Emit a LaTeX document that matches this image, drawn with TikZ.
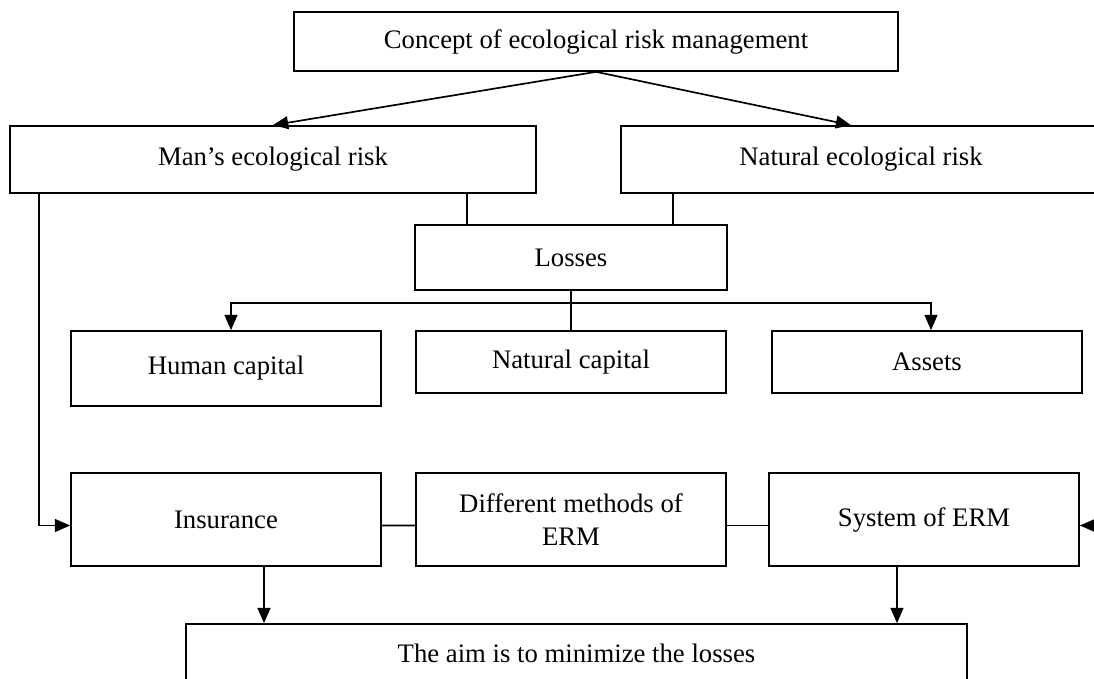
\documentclass[tikz,border=0pt]{standalone}
\usepackage{fontspec}
\setmainfont{Liberation Serif}
\usepackage{tikz}
\usetikzlibrary{positioning, arrows.meta, shapes}
\tikzstyle{arrow} = [line width=1.2pt,-{Triangle[length=0.38cm,width=0.32cm]}]
\tikzstyle{connect} = [line width=1.2pt,-]
\tikzstyle{box} = [rectangle, inner sep=0pt, text centered, draw=black, line width=1.2pt, font=\fontsize{19}{23.5}\selectfont]
\tikzstyle{risk} = [box, minimum width=13.15cm, minimum height=1.675cm]
\tikzstyle{capital} = [box, minimum width=7.75cm, minimum height=1.55cm]
\tikzstyle{method} = [box, minimum width=7.75cm, minimum height=2.325cm, align=center]

\begin{document}
\begin{tikzpicture}[node distance=1cm]
            \useasboundingbox (0,0) rectangle (27.35,-16.975);
            \node (concept) [box, minimum width=15.1cm, minimum height=1.475cm] at (14.9,-1.0375) {Concept of ecological risk management};
            \node (mans) [risk, node distance=2.95cm, below of=concept, xshift=-8.075cm] {Man’s ecological risk};
            \node (natural) [risk, minimum width=12cm, node distance=2.95cm, below of=concept, xshift=6.625cm] {Natural ecological risk};
            \node (losses) [box, minimum width=7.8cm, minimum height=1.625cm, node distance=5.4cm, below of=concept, xshift=-0.625cm] {Losses};
            \node (natcap) [capital, node distance=2.6125cm, below of=losses] {Natural capital};
            \node (human) [capital, minimum height=1.875cm, node distance=2.775cm, below of=losses, xshift=-8.625cm] {Human capital};
            \node (assets) [capital, node distance=2.6125cm, below of=losses, xshift=8.9cm] {Assets};
            \node (insurance) [method, node distance=3.775cm, below of=human] {Insurance};
            \node (methods) [method, node distance=3.9375cm, below of=natcap] {Different methods of\\ERM};
            \node (system) [method, node distance=3.9375cm, below of=assets, xshift=-0.075cm] {System of ERM};
            \node (aim) [box, minimum width=19.525cm, minimum height=1.45cm, node distance=3.3375cm, below of=methods, xshift=0.1375cm] {The aim is to minimize the losses};

            \coordinate (lossleft) at ([xshift=-2.6cm]losses.north);
            \coordinate (lossright) at ([xshift=2.55cm]losses.north);
            \coordinate (bus) at ([yshift=-0.3cm]losses.south);
            \coordinate (insdrop) at ([xshift=0.95cm]insurance.south);
            \coordinate (sysdrop) at ([xshift=-0.675cm]system.south);
            \coordinate (outside) at ([xshift=1cm,yshift=-0.15cm]system.east);

            \draw [arrow] (concept.south) -- (mans.north);
            \draw [arrow] (concept.south) -- ([xshift=-0.25cm]natural.north);
            \draw [connect] (lossleft) -- (lossleft |- mans.south);
            \draw [connect] (lossright) -- (lossright |- natural.south);
            \draw [connect] (losses.south) -- (natcap.north);
            \draw [arrow] (bus) -| ([xshift=0.125cm]human.north);
            \draw [arrow] (bus) -| ([xshift=0.1cm]assets.north);
            \draw [arrow] ([xshift=-5.85cm]mans.south) |- ([yshift=-0.15cm]insurance.west);
            \draw [connect] ([yshift=-0.15cm]insurance.east) -- ([yshift=-0.15cm]methods.west);
            \draw [connect] ([yshift=-0.15cm]methods.east) -- ([yshift=-0.15cm]system.west);
            \draw [arrow] (outside) -- ([yshift=-0.15cm]system.east);
            \draw [arrow] (insdrop) -- (insdrop |- aim.north);
            \draw [arrow] (sysdrop) -- (sysdrop |- aim.north);

        \end{tikzpicture}
\end{document}
